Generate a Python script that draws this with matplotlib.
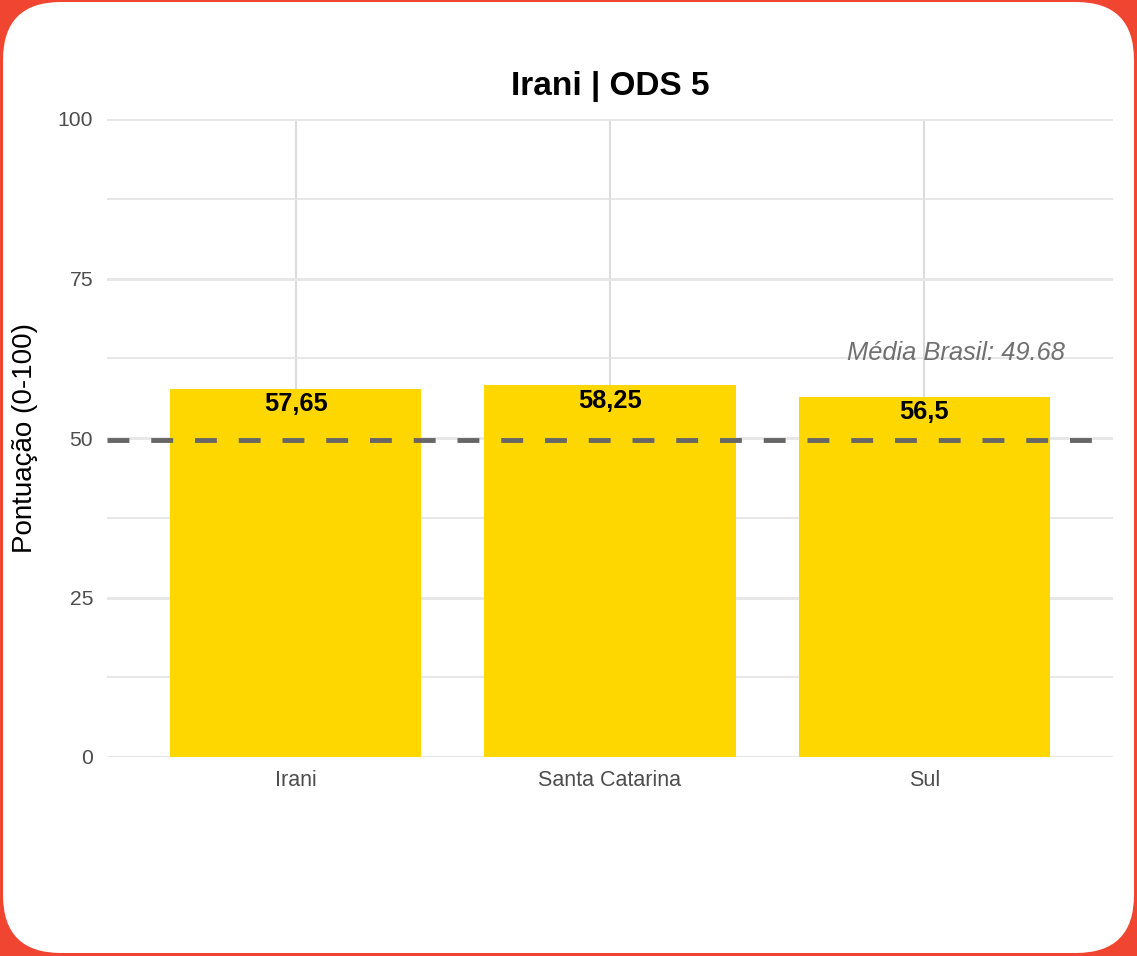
import matplotlib.pyplot as plt
from matplotlib.patches import FancyBboxPatch
from matplotlib.transforms import IdentityTransform

plt.rcParams['font.family'] = ['Liberation Sans', 'DejaVu Sans']

# data
categorias = ['Irani', 'Santa Catarina', 'Sul']
pontuacao = [57.65, 58.25, 56.5]
rotulos = ['57,65', '58,25', '56,5']
media_brasil = 49.68

W, H = 1137, 956
fig = plt.figure(figsize=(W / 100, H / 100), dpi=100)
fig.patch.set_facecolor('#F04530')

# white card with rounded corners (pixel coords), drawn behind the axes
card = FancyBboxPatch((3, 3), W - 6, H - 5, boxstyle='round,pad=0,rounding_size=58',
                      transform=IdentityTransform(), facecolor='white', edgecolor='none', zorder=-10)
fig.patches.append(card)

ax = fig.add_axes([107 / W, 1 - 757 / H, (1113 - 107) / W, (757 - 119) / H])
ax.set_facecolor('none')

x = range(len(categorias))
ax.bar(x, pontuacao, width=0.8, color='#FFD700', zorder=2)

for i, v in enumerate(pontuacao):
    ax.annotate(rotulos[i], (i, v), xytext=(0, -11), textcoords='offset points',
                ha='center', va='center', fontsize=18.3, fontweight='bold', color='black', zorder=4)

ax.axhline(media_brasil, color='#666666', lw=3.5, dashes=(4.5, 4.5), zorder=3)
ax.text(2.1, 63.3, 'Média Brasil: 49.68', ha='center', va='center', fontsize=18.4,
        style='italic', color='#707070', zorder=4)

ax.set_xlim(-0.6, 2.6)
ax.set_ylim(0, 100)
ax.set_xticks(list(x))
ax.set_xticklabels(categorias)
ax.set_yticks([0, 25, 50, 75, 100])
ax.set_yticks([12.5, 37.5, 62.5, 87.5], minor=True)

ax.grid(True, axis='y', which='major', color='#e6e6e6', lw=2, zorder=1)
ax.grid(True, axis='y', which='minor', color='#e3e3e3', lw=1.2, zorder=1)
ax.grid(True, axis='x', which='major', color='#dcdcdc', lw=1.5, zorder=1)
ax.set_axisbelow(True)

for s in ax.spines.values():
    s.set_visible(False)
ax.tick_params(axis='both', which='both', length=0)
ax.tick_params(axis='y', pad=10, labelsize=15.2, labelcolor='#4d4d4d')
ax.tick_params(axis='x', pad=9, labelsize=15.5, labelcolor='#4d4d4d')

ax.set_ylabel('Pontuação (0-100)', fontsize=20, labelpad=14)
fig.text(610 / W, 1 - 87 / H, 'Irani | ODS 5', ha='center', va='center',
         fontsize=24, fontweight='bold')

plt.savefig('out.png', dpi=100, facecolor=fig.get_facecolor())
print('saved')
